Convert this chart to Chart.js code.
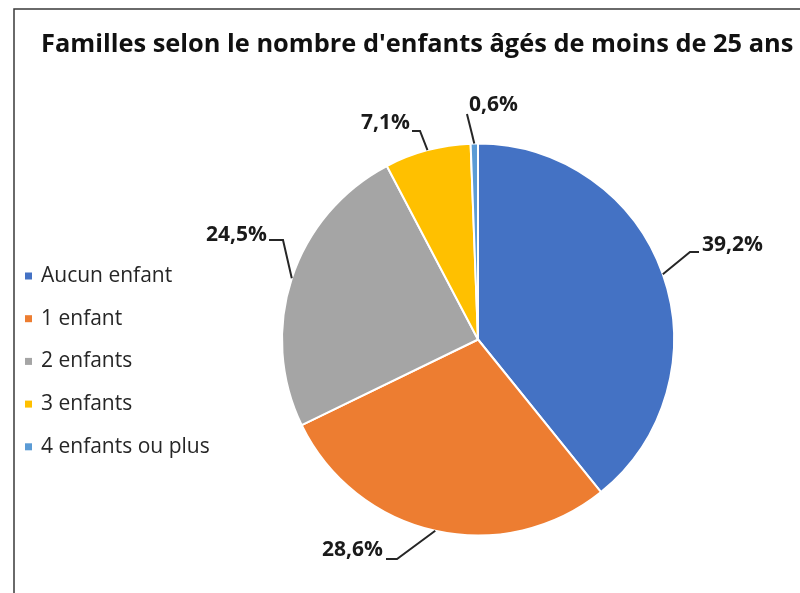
<!DOCTYPE html>
<html>
<head>
<meta charset="utf-8">
<script src="https://cdn.jsdelivr.net/npm/chart.js@4/dist/chart.umd.min.js"></script>
<style>
  html, body { margin: 0; padding: 0; background: #fff; overflow: hidden; }
  canvas { display: block; }
</style>
</head>
<body>
<canvas id="chart" width="800" height="593"></canvas>
<script>
const titleText = "Familles selon le nombre d'enfants âgés de moins de 25 ans";
const categories = ['Aucun enfant', '1 enfant', '2 enfants', '3 enfants', '4 enfants ou plus'];
const shares = [39.2, 28.6, 24.5, 7.1, 0.6];
const sliceColors = ['#4472C4', '#ED7D31', '#A5A5A5', '#FFC000', '#5B9BD5'];

// hand placed data labels, like the moved labels in the original sheet
const labelLayout = [
  { elbow: [690, 252], end: [699, 252], text: [702, 245], align: 'left' },
  { elbow: [397, 559], end: [386, 559], text: [383, 550], align: 'right' },
  { elbow: [283, 240], end: [269, 240], text: [267, 235], align: 'right' },
  { elbow: [420, 131], end: [412, 131], text: [410, 123], align: 'right' },
  { elbow: null, end: [467, 114], text: [469, 105], align: 'left' },
];

const fmt = v => v.toFixed(1).replace('.', ',') + '%';

const decorations = {
  id: 'decorations',
  afterDraw(chart) {
    const ctx = chart.ctx;
    ctx.save();

    // frame (only left and top edges are visible)
    ctx.strokeStyle = '#3a3a3a';
    ctx.lineWidth = 1.5;
    ctx.beginPath();
    ctx.moveTo(14, 593);
    ctx.lineTo(14, 9);
    ctx.lineTo(800, 9);
    ctx.stroke();

    // title
    ctx.fillStyle = '#111';
    ctx.font = 'bold 25.4px "Open Sans"';
    ctx.textBaseline = 'middle';
    ctx.textAlign = 'left';
    ctx.fillText(titleText, 41, 45);

    // legend
    ctx.font = '21px "Open Sans"';
    categories.forEach((name, i) => {
      const y = 276 + i * 42.7;
      ctx.fillStyle = sliceColors[i];
      ctx.fillRect(25, y - 3.5, 7, 7);
      ctx.fillStyle = '#262626';
      ctx.fillText(name, 41, y);
    });

    // data labels with leader lines
    const arcs = chart.getDatasetMeta(0).data;
    ctx.font = 'bold 21px "Open Sans"';
    arcs.forEach((arc, i) => {
      const { x, y, startAngle, endAngle, outerRadius } = arc.getProps(['x', 'y', 'startAngle', 'endAngle', 'outerRadius'], true);
      const mid = (startAngle + endAngle) / 2;
      const px = x + Math.cos(mid) * outerRadius;
      const py = y + Math.sin(mid) * outerRadius;
      const lay = labelLayout[i];
      ctx.strokeStyle = '#262626';
      ctx.lineWidth = 2;
      ctx.beginPath();
      ctx.moveTo(px, py);
      if (lay.elbow) ctx.lineTo(lay.elbow[0], lay.elbow[1]);
      ctx.lineTo(lay.end[0], lay.end[1]);
      ctx.stroke();
      ctx.fillStyle = '#1a1a1a';
      ctx.textAlign = lay.align;
      ctx.fillText(fmt(shares[i]), lay.text[0], lay.text[1]);
    });

    ctx.restore();
  }
};

new Chart(document.getElementById('chart'), {
  type: 'pie',
  data: {
    labels: categories,
    datasets: [{
      data: shares,
      backgroundColor: sliceColors,
      borderColor: '#ffffff',
      borderWidth: 2,
    }]
  },
  options: {
    responsive: false,
    animation: false,
    layout: {
      padding: { left: 281, right: 125, top: 142, bottom: 56 }
    },
    plugins: {
      legend: { display: false },
      tooltip: { enabled: false },
      title: { display: false }
    }
  },
  plugins: [decorations]
});
</script>
</body>
</html>
